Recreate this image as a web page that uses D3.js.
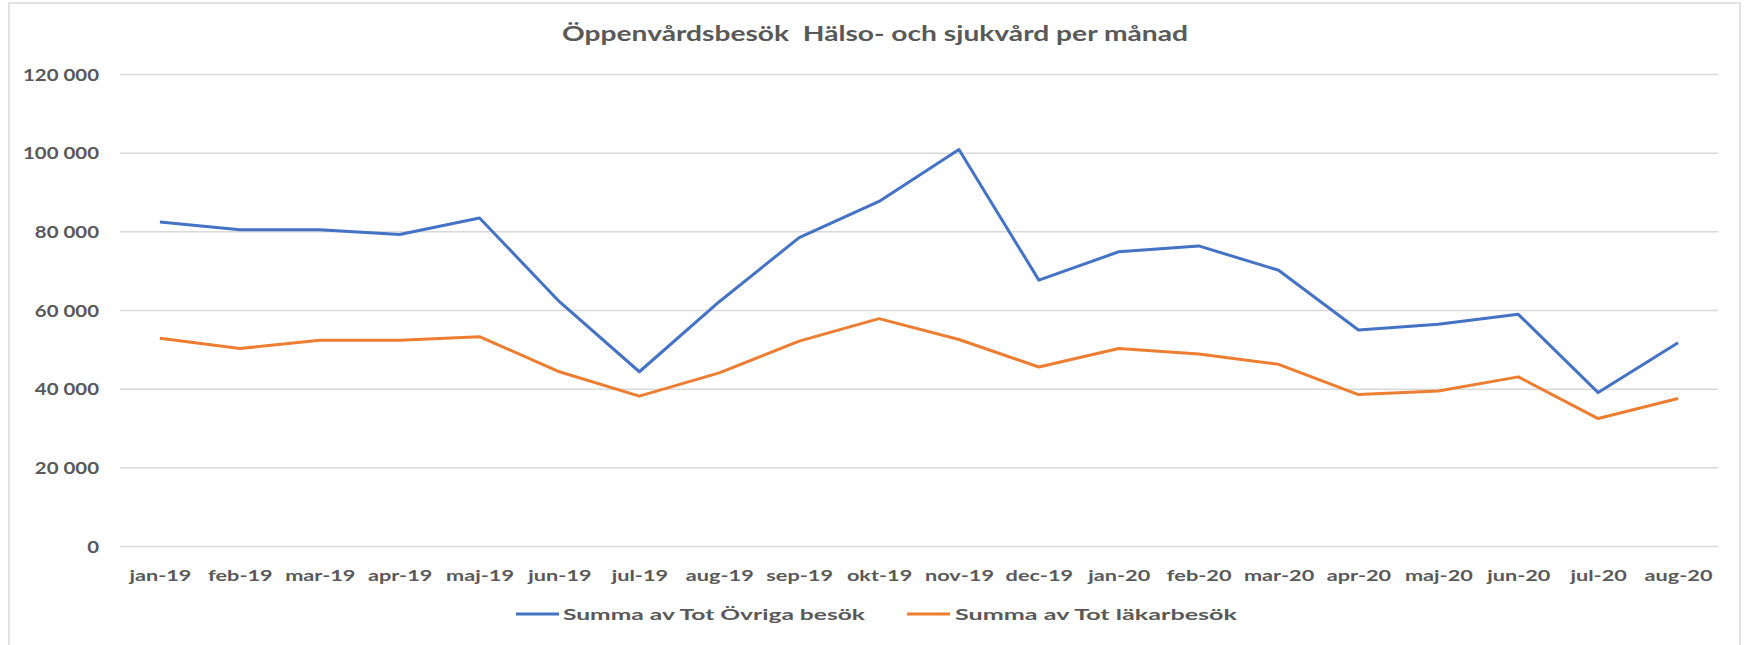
<!DOCTYPE html>
<html><head><meta charset="utf-8">
<script src="https://cdn.jsdelivr.net/npm/d3@7"></script>
<style>
body{margin:0;background:#fff;}
svg{display:block;font-family:Lato,"Open Sans",sans-serif;}
</style>
</head><body>
<svg id="c" width="1745" height="645"></svg>
<script>
const chartTitle = "Öppenvårdsbesök  Hälso- och sjukvård per månad";
const months = ["jan-19","feb-19","mar-19","apr-19","maj-19","jun-19","jul-19","aug-19","sep-19","okt-19","nov-19","dec-19","jan-20","feb-20","mar-20","apr-20","maj-20","jun-20","jul-20","aug-20"];
const seriesNames = ["Summa av Tot Övriga besök","Summa av Tot läkarbesök"];
const ovrigaBesok = [82400,80400,80400,79200,83400,62100,44300,62100,78400,87600,100800,67600,74800,76300,70100,54900,56400,58900,39000,51700];
const lakarBesok = [52800,50200,52300,52300,53200,44300,38100,44000,52100,57800,52500,45500,50200,48800,46200,38500,39400,43000,32400,37500];
const yTicks = [0,20000,40000,60000,80000,100000,120000];
const seriesColors = ["#4472C4","#ED7D31"];

(function(){
const svg = d3.select("#c");
const textColor = "#595959";

// chart border
svg.append("rect").attr("x",9).attr("y",3).attr("width",1731).attr("height",700)
  .attr("fill","none").attr("stroke","#d9d9d9").attr("stroke-width",1.5);

const pLeft = 120, pRight = 1718, pTop = 74, pBottom = 546;
const x = d3.scalePoint().domain(months).range([pLeft,pRight]).padding(0.5);
const y = d3.scaleLinear().domain([0,120000]).range([pBottom,pTop]);

const fmt = d3.formatLocale({decimal:",",thousands:" ",grouping:[3],currency:["","kr"]}).format(",");

function stretchNodes(nodes, refNode, refWidth){
  const f = refWidth / refNode.getComputedTextLength();
  nodes.forEach(t=>{
    const w = t.getComputedTextLength();
    t.setAttribute("textLength", (w*f).toFixed(2));
    t.setAttribute("lengthAdjust","spacingAndGlyphs");
  });
}

// gridlines + y labels
const yAxis = svg.append("g").attr("transform",`translate(${pLeft},0)`)
  .call(d3.axisLeft(y).tickValues(yTicks).tickFormat(fmt).tickSize(-(pRight-pLeft)).tickPadding(21));
yAxis.select(".domain").remove();
yAxis.selectAll(".tick line").attr("stroke","#d9d9d9").attr("stroke-width",1.5);
yAxis.selectAll(".tick text").attr("fill",textColor).attr("font-size",17).attr("font-weight","bold")
  .attr("font-family","Lato, sans-serif").attr("dy","0.36em");
{
  const texts = yAxis.selectAll(".tick text").nodes();
  stretchNodes(texts, texts[texts.length-1], 76);
}

// x labels
const xAxis = svg.append("g").attr("transform",`translate(0,${pBottom})`)
  .call(d3.axisBottom(x).tickSize(0).tickPadding(0));
xAxis.select(".domain").remove();
xAxis.selectAll(".tick text").attr("fill",textColor).attr("font-size",16).attr("font-weight","bold")
  .attr("font-family","Lato, sans-serif").attr("dy",null).attr("y",35);
{
  const texts = xAxis.selectAll(".tick text").nodes();
  stretchNodes(texts, texts[0], 62);
}

// lines
const line = d3.line().x((d,i)=>x(months[i])).y(d=>y(d));
[ovrigaBesok, lakarBesok].forEach((s,k)=>{
  svg.append("path").datum(s).attr("d",line).attr("fill","none")
    .attr("stroke",seriesColors[k]).attr("stroke-width",3).attr("stroke-linejoin","round");
});

// title
const t = svg.append("text").attr("x",875).attr("y",41).attr("text-anchor","middle")
  .attr("fill",textColor).attr("font-size",20).attr("font-weight","bold")
  .style("white-space","pre").text(chartTitle);
t.attr("textLength",626).attr("lengthAdjust","spacingAndGlyphs");

// legend
const legendItems = [
  {name:seriesNames[0], color:seriesColors[0], x0:516, x1:559, tx:563, w:302},
  {name:seriesNames[1], color:seriesColors[1], x0:907, x1:950, tx:955, w:282}
];
const lg = svg.append("g");
legendItems.forEach(it=>{
  lg.append("line").attr("x1",it.x0).attr("x2",it.x1).attr("y1",614).attr("y2",614)
    .attr("stroke",it.color).attr("stroke-width",3);
  lg.append("text").attr("x",it.tx).attr("y",620).attr("fill",textColor)
    .attr("font-size",16).attr("font-weight","bold").text(it.name)
    .attr("textLength",it.w).attr("lengthAdjust","spacingAndGlyphs");
});
})();
</script>
</body></html>
